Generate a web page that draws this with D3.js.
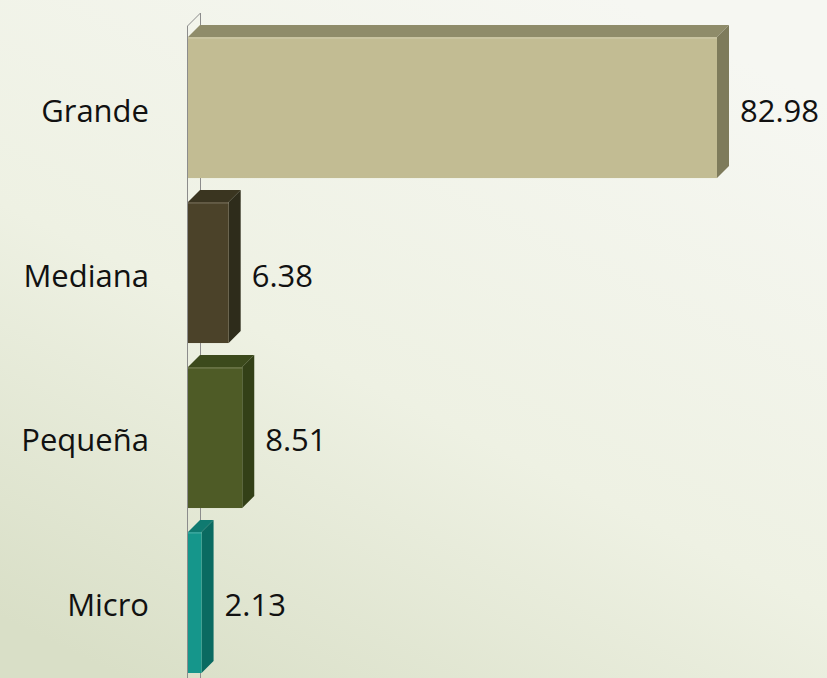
<!DOCTYPE html>
<html><head><meta charset="utf-8">
<script src="https://cdn.jsdelivr.net/npm/d3@7"></script>
<style>html,body{margin:0;padding:0;overflow:hidden;}svg{display:block;}</style>
</head><body>
<svg id="c" width="827" height="678"></svg>
<script>
const categories = ["Grande", "Mediana", "Pequeña", "Micro"];
const values = [82.98, 6.38, 8.51, 2.13];
const valueLabels = ["82.98", "6.38", "8.51", "2.13"];
const frontColors = ["#c2bc93", "#4b4229", "#4e5b26", "#15968b"];
const topColors = ["#8f8c6a", "#3a3520", "#3c4a1c", "#0f7a70"];
const sideColors = ["#7e7b5b", "#2e2c1b", "#334017", "#0a6a61"];

const W = 827, H = 678;
const svg = d3.select("#c");
const defs = svg.append("defs");
const g = defs.append("linearGradient").attr("id", "bg")
  .attr("x1", "75%").attr("y1", "0%").attr("x2", "15%").attr("y2", "100%");
g.append("stop").attr("offset", "0%").attr("stop-color", "#f6f7f2");
g.append("stop").attr("offset", "55%").attr("stop-color", "#eef1e3");
g.append("stop").attr("offset", "100%").attr("stop-color", "#d9dfc7");
svg.append("rect").attr("width", W).attr("height", H).attr("fill", "url(#bg)");

const x = d3.scaleLinear().domain([0, 82.98]).range([188, 717]);
const y = d3.scaleBand().domain(categories).range([25, 685])
  .paddingInner(0.145).paddingOuter(0.0727);
const dx = 12, dy = 12;

// wall lines
const wallTop = 26;
const wall = svg.append("g").attr("stroke", "#8c8c8c").attr("stroke-width", 1).attr("fill", "none");
wall.append("line").attr("x1", x(0) - 0.5).attr("x2", x(0) - 0.5).attr("y1", wallTop).attr("y2", H);
wall.append("line").attr("x1", x(0) + dx + 0.5).attr("x2", x(0) + dx + 0.5).attr("y1", wallTop - dy - 1).attr("y2", H);
wall.append("line").attr("x1", x(0) - 0.5).attr("x2", x(0) + dx + 0.5).attr("y1", wallTop).attr("y2", wallTop - dy - 1);

const data = categories.map((c, i) => ({c, v: values[i], l: valueLabels[i], i}));
const bars = svg.append("g").selectAll("g").data(data).join("g");

bars.append("path").attr("fill", d => topColors[d.i]).attr("d", d => {
  const x0 = x(0), x1 = x(d.v), y0 = y(d.c);
  return `M${x0},${y0}L${x0 + dx},${y0 - dy}L${x1 + dx},${y0 - dy}L${x1},${y0}Z`;
});
bars.append("path").attr("fill", d => sideColors[d.i]).attr("d", d => {
  const x1 = x(d.v), y0 = y(d.c), y1 = y0 + y.bandwidth();
  return `M${x1},${y0}L${x1 + dx},${y0 - dy}L${x1 + dx},${y1 - dy}L${x1},${y1}Z`;
});
bars.append("rect").attr("fill", d => frontColors[d.i])
  .attr("x", d => x(0)).attr("y", d => y(d.c))
  .attr("width", d => x(d.v) - x(0)).attr("height", y.bandwidth());
bars.append("line").attr("stroke", "#ffffff").attr("stroke-opacity", 0.25)
  .attr("x1", d => x(0)).attr("x2", d => x(d.v)).attr("y1", d => y(d.c) + 1).attr("y2", d => y(d.c) + 1);

const font = "'Open Sans', sans-serif";
svg.append("g").selectAll("text").data(data).join("text")
  .attr("x", 149).attr("y", d => y(d.c) + y.bandwidth() / 2 + 2)
  .attr("text-anchor", "end").attr("dominant-baseline", "central")
  .attr("font-family", font).attr("font-size", 31).attr("fill", "#111")
  .text(d => d.c);
svg.append("g").selectAll("text").data(data).join("text")
  .attr("x", d => x(d.v) + dx + 11).attr("y", d => y(d.c) + y.bandwidth() / 2 + 2)
  .attr("text-anchor", "start").attr("dominant-baseline", "central")
  .attr("font-family", font).attr("font-size", 31).attr("fill", "#111")
  .text(d => d.l);
</script>
</body></html>
